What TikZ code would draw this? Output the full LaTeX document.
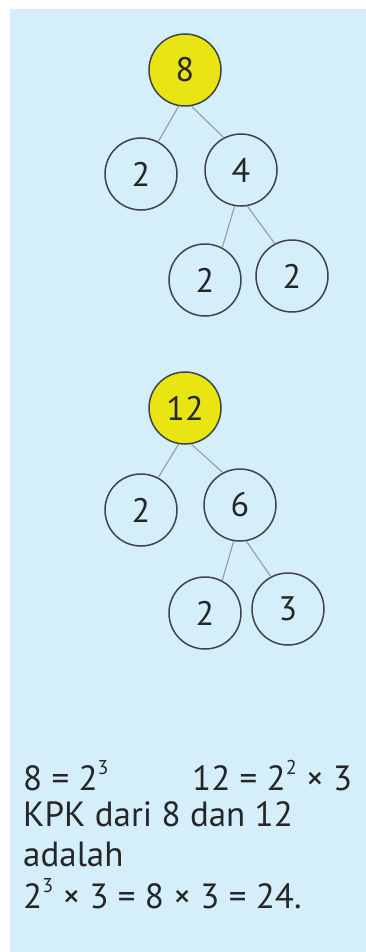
\documentclass[tikz,border=0pt]{standalone}
\usepackage{fontspec}
\setmainfont{PT Sans}
\definecolor{bgblue}{HTML}{D4EEFA}
\definecolor{ryellow}{HTML}{E8E512}
\definecolor{ringgray}{HTML}{404448}
\definecolor{linegray}{HTML}{8E9EA6}
\newcommand{\sups}[1]{\raisebox{0.45em}{\fontsize{20}{20}\selectfont #1}}
\begin{document}
\begin{tikzpicture}[x=1pt,y=-1pt,
  numnode/.style={circle,draw=ringgray,line width=1.5pt,minimum size=72pt,inner sep=0pt,
    font=\fontsize{34}{34}\selectfont,text=black!85},
  rootnode/.style={numnode,fill=ryellow},
  branch/.style={draw=linegray,line width=1.1pt},
  txt/.style={anchor=base west,inner sep=0pt,font=\fontsize{35}{35}\selectfont,text=black!85}]
\useasboundingbox (0,0) rectangle (366,952);
\fill[white] (0,0) rectangle (366,952);
\fill[bgblue] (10,9) rectangle (366,952);
% tree 1
\node[rootnode] (r1) at (185,70) {8};
\node[numnode] (a1) at (141,174) {2};
\node[numnode] (b1) at (241,170) {4};
\node[numnode] (c1) at (205,280) {2};
\node[numnode] (d1) at (292,276) {2};
\draw[branch] (r1.-100) -- (a1.62);
\draw[branch] (r1.-80) -- (b1.118);
\draw[branch] (b1.-100) -- (c1.62);
\draw[branch] (b1.-80) -- (d1.118);
% tree 2
\node[rootnode] (r2) at (185,408) {12};
\node[numnode] (a2) at (141,510) {2};
\node[numnode] (b2) at (240,505) {6};
\node[numnode] (c2) at (205,613) {2};
\node[numnode] (d2) at (288,609) {3};
\draw[branch] (r2.-100) -- (a2.62);
\draw[branch] (r2.-80) -- (b2.118);
\draw[branch] (b2.-100) -- (c2.62);
\draw[branch] (b2.-80) -- (d2.118);
% text
\node[txt] (t1) at (23,790) {8 = 2\sups{3}};
\node[txt] (t1b) at (192,790) {12 = 2\sups{2} × 3};
\node[txt] (t2) at (23,826) {KPK dari 8 dan 12};
\node[txt] (t3) at (23,866) {adalah};
\node[txt] (t4) at (23,908) {2\sups{3} × 3 = 8 × 3 = 24.};
\end{tikzpicture}
\end{document}
